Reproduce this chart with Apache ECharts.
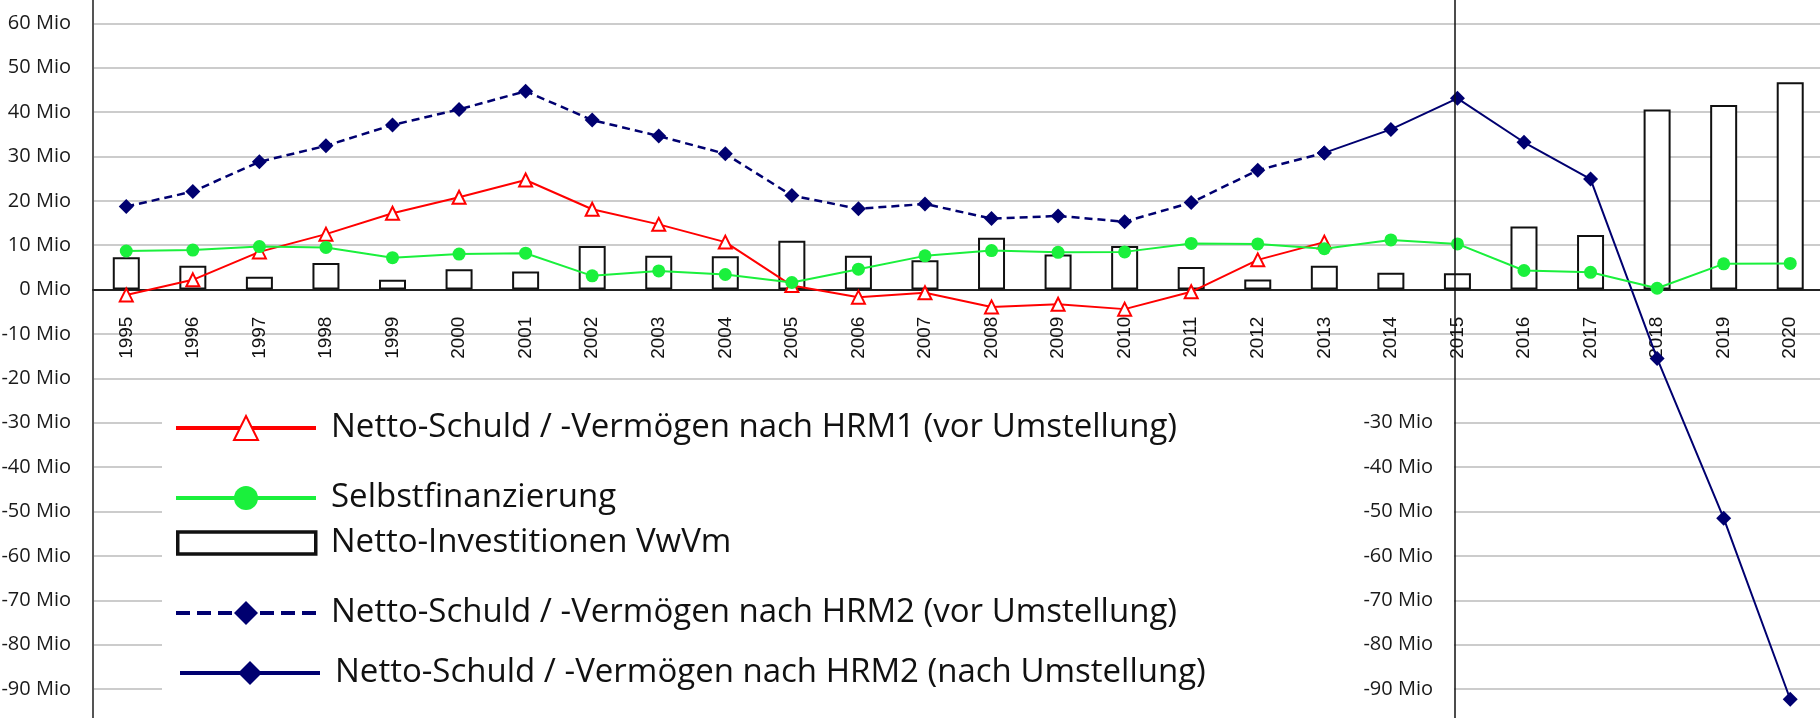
<!DOCTYPE html>
<html>
<head>
<meta charset="utf-8">
<title>Netto-Schuld / -Vermögen</title>
<script src="https://cdn.jsdelivr.net/npm/echarts@6/dist/echarts.min.js"></script>
<style>
  html, body { margin: 0; padding: 0; background: #fff; }
  #main { width: 1820px; height: 718px; }
</style>
</head>
<body>
<div id="main"></div>
<script>
// Werte in Mio CHF
var years = ['1995', '1996', '1997', '1998', '1999', '2000', '2001', '2002', '2003', '2004',
  '2005', '2006', '2007', '2008', '2009', '2010', '2011', '2012', '2013', '2014',
  '2015', '2016', '2017', '2018', '2019', '2020'];
var investitionen = [7.3, 5.4, 2.9, 6.0, 2.2, 4.6, 4.1, 9.8, 7.6, 7.5,
  11.0, 7.6, 6.6, 11.7, 7.9, 9.8, 5.1, 2.3, 5.4, 3.8,
  3.7, 14.2, 12.3, 40.6, 41.6, 46.7];
var selbstfinanzierung = [8.7, 8.9, 9.7, 9.5, 7.2, 8.0, 8.2, 3.1, 4.2, 3.4,
  1.6, 4.6, 7.6, 8.8, 8.4, 8.5, 10.4, 10.3, 9.2, 11.2,
  10.3, 4.3, 3.9, 0.3, 5.8, 5.9];
var hrm1 = [-1.2, 2.2, 8.5, 12.5, 17.2, 20.8, 24.7, 18.1, 14.7, 10.7,
  0.9, -1.7, -0.7, -3.9, -3.3, -4.4, -0.5, 6.7, 10.7, null,
  null, null, null, null, null, null];
var hrm2Vor = [18.7, 22.1, 28.8, 32.4, 37.1, 40.6, 44.7, 38.2, 34.6, 30.6,
  21.2, 18.2, 19.3, 16.0, 16.6, 15.3, 19.6, 26.9, 30.8, null,
  null, null, null, null, null, null];
var hrm2Nach = [null, null, null, null, null, null, null, null, null, null,
  null, null, null, null, null, null, null, null, 30.8, 36.1,
  43.1, 33.2, 24.9, -15.5, -51.5, -92.3];

var NAME_HRM1 = 'Netto-Schuld / -Vermögen nach HRM1 (vor Umstellung)';
var NAME_SF = 'Selbstfinanzierung';
var NAME_INV = 'Netto-Investitionen VwVm';
var NAME_HRM2V = 'Netto-Schuld / -Vermögen nach HRM2 (vor Umstellung)';
var NAME_HRM2N = 'Netto-Schuld / -Vermögen nach HRM2 (nach Umstellung)';

var RED = '#ff0000';
var GREEN = '#1af03c';
var NAVY = '#000070';

function legendItem(name, top, left, extra) {
  var l = {
    data: [name],
    top: top,
    left: left,
    padding: 0,
    itemWidth: 140,
    itemHeight: 30,
    z: 10,
    selectedMode: false,
    textStyle: { fontFamily: 'Open Sans', fontSize: 33, color: '#111', padding: [0, 0, 0, 10] },
    lineStyle: { width: 4 }
  };
  for (var k in extra) l[k] = extra[k];
  return l;
}

var chart = echarts.init(document.getElementById('main'));

var option = {
  animation: false,
  backgroundColor: '#fff',
  textStyle: { fontFamily: 'Open Sans' },
  grid: {
    left: 93,
    right: -3.5,
    top: -21.06,
    height: 754.46,
    containLabel: false,
    outerBoundsMode: 'none'
  },
  graphic: [{
    type: 'rect',
    silent: true,
    z: 5,
    shape: { x: 162, y: 390, width: 1292, height: 330 },
    style: { fill: '#fff' }
  }],
  legend: [
    legendItem(NAME_HRM1, 411.5, 174),
    legendItem(NAME_SF, 481.5, 174),
    legendItem(NAME_INV, 526.5, 176, {
      icon: 'rect',
      itemWidth: 138,
      itemHeight: 22,
      itemStyle: { color: '#fff', borderColor: '#111', borderWidth: 3.5 }
    }),
    legendItem(NAME_HRM2V, 596.5, 174, { lineStyle: { width: 4, type: [14, 7] } }),
    legendItem(NAME_HRM2N, 656.5, 178)
  ],
  xAxis: {
    type: 'category',
    data: years,
    position: 'bottom',
    offset: -443.8,
    z: 1,
    axisLine: { onZero: false, lineStyle: { color: '#222', width: 2 } },
    axisTick: { show: false },
    axisLabel: {
      show: true,
      rotate: 90,
      interval: 0,
      margin: 27,
      fontFamily: 'Liberation Sans',
      fontSize: 19,
      color: '#111'
    },
    splitLine: { show: false }
  },
  yAxis: [{
    type: 'value',
    min: -100,
    max: 70,
    interval: 10,
    axisLine: { show: true, lineStyle: { color: '#555', width: 2 } },
    axisTick: { show: false },
    axisLabel: {
      margin: 22,
      fontFamily: 'Open Sans',
      fontSize: 20,
      color: '#1a1a1a',
      formatter: function (v) { return (v >= -90 && v <= 60) ? v + ' Mio' : ''; }
    },
    splitLine: { lineStyle: { color: '#cccccc', width: 2 } }
  }, {
    type: 'value',
    position: 'left',
    offset: -1362,
    min: -100,
    max: 70,
    interval: 10,
    z: 10,
    axisLine: { show: true, onZero: false, lineStyle: { color: '#111', width: 1.5 } },
    axisTick: { show: false },
    splitLine: { show: false },
    axisLabel: {
      margin: 22,
      fontFamily: 'Open Sans',
      fontSize: 20,
      color: '#1a1a1a',
      formatter: function (v) { return (v >= -90 && v <= -30) ? v + ' Mio' : ''; }
    }
  }],
  series: [{
    name: NAME_INV,
    type: 'bar',
    data: investitionen,
    barWidth: 27,
    z: 2,
    itemStyle: { color: '#fff', borderColor: '#111', borderWidth: 2 }
  }, {
    name: NAME_HRM1,
    type: 'line',
    data: hrm1,
    z: 3,
    symbol: 'emptyTriangle',
    symbolSize: 13,
    showSymbol: true,
    showAllSymbol: true,
    lineStyle: { color: RED, width: 2 },
    itemStyle: { color: RED, borderWidth: 1.5 }
  }, {
    name: NAME_HRM2V,
    type: 'line',
    data: hrm2Vor,
    z: 3,
    symbol: 'diamond',
    symbolSize: 15,
    showSymbol: true,
    showAllSymbol: true,
    lineStyle: { color: NAVY, width: 2.5, type: [8, 5] },
    itemStyle: { color: NAVY }
  }, {
    name: NAME_HRM2N,
    type: 'line',
    data: hrm2Nach,
    z: 3,
    symbol: 'diamond',
    symbolSize: 15,
    showSymbol: true,
    showAllSymbol: true,
    lineStyle: { color: NAVY, width: 2 },
    itemStyle: { color: NAVY }
  }, {
    name: NAME_SF,
    type: 'line',
    data: selbstfinanzierung,
    z: 4,
    symbol: 'circle',
    symbolSize: 13,
    showSymbol: true,
    showAllSymbol: true,
    lineStyle: { color: GREEN, width: 2 },
    itemStyle: { color: GREEN }
  }]
};

chart.setOption(option);
</script>
</body>
</html>
